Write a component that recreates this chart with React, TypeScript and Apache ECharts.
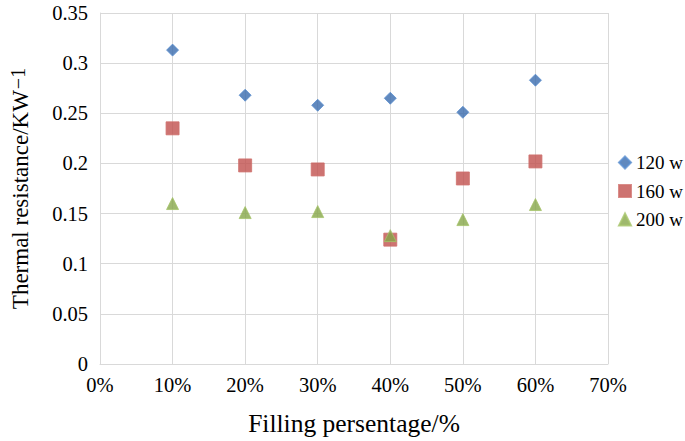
import React, { useEffect, useRef } from "react";
import * as echarts from "echarts";

const xValues = [10, 20, 30, 40, 50, 60];
const series120 = [0.313, 0.268, 0.258, 0.265, 0.251, 0.283];
const series160 = [0.235, 0.198, 0.194, 0.124, 0.185, 0.202];
const series200 = [0.16, 0.151, 0.152, 0.128, 0.144, 0.159];
const seriesNames = ["120 w", "160 w", "200 w"];
const xTickLabels = ["0%", "10%", "20%", "30%", "40%", "50%", "60%", "70%"];

const FONT = "Liberation Serif";

export default function App() {
  const ref = useRef<HTMLDivElement>(null);
  useEffect(() => {
    if (!ref.current) return;
    const chart = echarts.init(ref.current, undefined, { renderer: "svg" });
    const mk = (vals: number[]) => xValues.map((x, i) => [x, vals[i]]);
    chart.setOption({
      animation: false,
      backgroundColor: "#ffffff",
      textStyle: { fontFamily: FONT, color: "#000" },
      grid: { left: 97, right: 77, top: 13, bottom: 77 },
      legend: {
        orient: "vertical",
        left: 618,
        top: 153,
        padding: 0,
        itemWidth: 12,
        itemHeight: 12,
        itemGap: 9.5,
        textStyle: { fontFamily: FONT, fontSize: 19, color: "#000" },
        data: seriesNames,
      },
      xAxis: {
        type: "value",
        min: 0,
        max: 70,
        interval: 10,
        name: "Filling persentage/%",
        nameLocation: "middle",
        nameGap: 46,
        nameTextStyle: { fontFamily: FONT, fontSize: 25.5, color: "#000" },
        axisLine: { show: true, lineStyle: { color: "#d9d9d9" } },
        axisTick: { show: false },
        splitLine: { show: true, lineStyle: { color: "#d9d9d9", width: 1 } },
        axisLabel: {
          margin: 10,
          fontFamily: FONT,
          fontSize: 20.5,
          color: "#000",
          formatter: (v: number) => xTickLabels[Math.round(v / 10)],
        },
      },
      yAxis: {
        type: "value",
        min: 0,
        max: 0.35,
        interval: 0.05,
        name: "Thermal resistance/KW{sup|−1}",
        nameLocation: "middle",
        nameGap: 67,
        nameTextStyle: {
          fontFamily: FONT,
          fontSize: 23,
          color: "#000",
          rich: {
            sup: { fontFamily: FONT, fontSize: 20, color: "#000", verticalAlign: "top", padding: [0, 0, 5, 1] },
          },
        },
        axisLine: { show: true, lineStyle: { color: "#d9d9d9" } },
        axisTick: { show: false },
        splitLine: { show: true, lineStyle: { color: "#d9d9d9", width: 1 } },
        axisLabel: {
          margin: 12,
          fontFamily: FONT,
          fontSize: 20.5,
          color: "#000",
          formatter: (v: number) => String(Math.round(v * 100) / 100),
        },
      },
      series: [
        {
          name: seriesNames[0],
          type: "scatter",
          symbol: "diamond",
          symbolSize: 12,
          data: mk(series120),
          itemStyle: { color: "#3a6cae", borderColor: "#5a8fd0", borderWidth: 1 },
        },
        {
          name: seriesNames[1],
          type: "scatter",
          symbol: "rect",
          symbolSize: 13,
          data: mk(series160),
          itemStyle: { color: "#c0504d", borderColor: "#d0706d", borderWidth: 1 },
        },
        {
          name: seriesNames[2],
          type: "scatter",
          symbol: "triangle",
          symbolSize: 12,
          data: mk(series200),
          itemStyle: { color: "#86a648", borderColor: "#a6c46a", borderWidth: 1 },
        },
      ],
    });
    return () => chart.dispose();
  }, []);
  return <div ref={ref} style={{ width: 685, height: 441, position: "absolute", left: 0, top: 0 }} />;
}
